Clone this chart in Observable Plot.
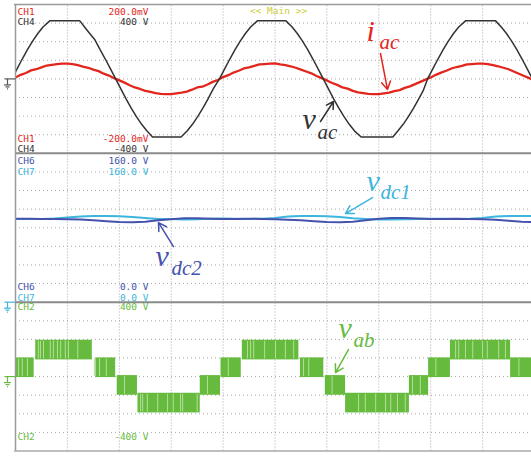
<!DOCTYPE html>
<html><head><meta charset="utf-8">
<script src="https://cdn.jsdelivr.net/npm/d3@7"></script>
<script src="https://cdn.jsdelivr.net/npm/@observablehq/plot@0.6"></script>
<style>html,body{margin:0;padding:0;background:#fff;overflow:hidden}</style>
</head><body><div id="chart"></div>
<script>
// ---------- data (time in screen divisions) ----------
// CH4 v_ac (V) : [t, V]
const vacPoints = [[-0.07,0],[0.03,54],[0.13,107],[0.23,157],[0.33,203],[0.43,244],[0.53,279],[0.66,312],[1.24,312],[1.33,279],[1.43,244],[1.53,210],[1.63,157],[1.73,107],[1.83,54],[1.93,0],
[2.03,-54],[2.13,-107],[2.23,-157],[2.33,-203],[2.43,-244],[2.53,-279],[2.64,-312],[3.19,-312],[3.31,-279],[3.41,-244],[3.51,-203],[3.61,-157],[3.71,-107],[3.81,-54],[3.93,0],
[4.03,54],[4.13,107],[4.23,157],[4.33,203],[4.43,244],[4.53,279],[4.66,312],[5.21,312],[5.33,279],[5.43,244],[5.53,203],[5.63,157],[5.73,107],[5.83,54],[5.93,0],
[6.03,-54],[6.13,-107],[6.23,-157],[6.33,-203],[6.43,-244],[6.53,-279],[6.66,-312],[7.27,-312],[7.37,-279],[7.47,-244],[7.57,-203],[7.67,-157],[7.77,-107],[7.86,-60],[7.94,0],
[8.04,54],[8.14,107],[8.24,157],[8.34,203],[8.44,244],[8.54,279],[8.67,312],[9.25,312],[9.36,279],[9.46,244],[9.56,203],[9.66,157],[9.76,107],[9.86,54],[9.96,0],[10.06,-54]];
// CH1 i_ac (mV), one sample every 0.1 div from t = 0
const iacStep = 0.1;
const iacMV = [4,11,16,23,26,31,36,38,40,41, 41,40,37,33,30,25,21,14,9,2,
 -4,-10,-17,-23,-27,-32,-35,-38,-40,-41, -41,-39,-37,-34,-29,-23,-21,-15,-8,-3,
 5,10,17,22,28,31,35,39,40,41, 42,39,37,34,30,25,20,15,8,2,
 -4,-11,-16,-23,-26,-32,-36,-38,-40,-41, -41,-39,-37,-33,-30,-24,-20,-14,-8,-2,
 4,11,17,22,28,32,35,39,40,41, 41,40,37,34,30,26,20,14,8,2, -4];
// CH7 v_dc1 and CH6 v_dc2 (V), one sample every 0.25 div
const dcStep = 0.25;
const vdc1V = [89.5,89.5,89.5,90,91,92,92.5,92.7,92.3,91.5,90.5,89.5,89.5,89,89.2,89.8,90,89.8,89.5,89.8,90.5,92,92.5,92.7,92.3,91.5,90.3,89.5,89,89,89.2,89.5,89.8,89.8,89.5,89.8,90.5,92,92.5,92.7,92.5];
const vdc2V = [89.8,89.8,89.5,89.5,89.2,89,88,87,86.3,86,86.5,88,89.2,90.3,90.3,89.8,89.5,89.5,89.8,89.5,89.2,88.7,88,87,86.3,86,86.5,88,89.8,90.5,90.5,90,89.5,89.5,89.8,89.5,89.2,88.5,87.5,86.5,86.1];
// CH2 v_ab : PWM bands between adjacent levels (V)
const vabStart = [0,0.39,1.55,1.96,2.36,3.56,3.96,4.37,5.49,5.97,6.36,7.59,7.96,8.38,9.54];
const vabEnd   = [0.36,1.48,1.93,2.35,3.56,3.95,4.35,5.46,5.94,6.36,7.59,7.96,8.38,9.54,10];
const vabLo    = [0,95,0,-95,-190,-95,0,95,0,-95,-190,-95,0,95,0];
const vabHi    = [95,190,95,0,-95,0,95,190,95,0,-95,0,95,190,95];
const vabGaps  = [0.06,0.13,0.23,0.44,0.48,0.54,0.67,0.73,0.81,0.87,0.96,1.02,1.2,1.52,1.62,1.75,2.1,2.41,2.45,2.54,2.74,2.93,3.04,3.18,3.22,3.5,3.7,4.1,4.47,4.53,4.59,4.8,5.01,5.2,5.36,5.55,5.65,6.1,6.61,6.74,6.94,7.13,7.23,7.36,7.51,7.65,7.8,8.1,8.48,8.54,8.67,8.81,9.0,9.09,9.31,9.44,9.7];
// channel labels
const labelCh  = ["CH1","CH4","CH1","CH4","CH6","CH7","CH6","CH7","CH2","CH2"];
const labelVal = ["200.0mV","400 V","-200.0mV","-400 V","160.0 V","160.0 V","0.0 V","0.0 V","400 V","-400 V"];
const modeText = "<< Main >>";

// ---------- layout ----------
const W = 531, H = 457;
const X0 = 15, DX = 51.9, Y0 = 4, DY = 18.6;
const tx = x => (x - X0) / DX;          // pixel -> division
const ty = y => 24 - (y - Y0) / DY;
const y1 = mv => 20 + mv / 50;          // CH1 50 mV/div
const y4 = v => 20 + v / 100;           // CH4 100 V/div
const y67 = v => 8 + v / 20;            // CH6/7 20 V/div, 0 at bottom
const y2 = v => 4 + v / 100;            // CH2 100 V/div

const RED = "#e3261c", BLK = "#333333", BLUE = "#4552ad", CYAN = "#3db5dc", GREEN = "#66bb3e";
const labelY = [11, 21.5, 138, 148, 160, 171, 286, 297, 306.5, 436];
const labelC = [RED, BLK, RED, BLK, BLUE, CYAN, BLUE, CYAN, GREEN, GREEN];
const idx = d3.range(labelCh.length);

const iac = iacMV.map((v, i) => ({t: i * iacStep, y: y1(v)}));
const vac = vacPoints.map(([t, v]) => ({t, y: y4(v)}));
const dc1 = vdc1V.map((v, i) => ({t: i * dcStep, y: y67(v)}));
const dc2 = vdc2V.map((v, i) => ({t: i * dcStep, y: y67(v)}));
const bands = vabStart.map((s, i) => ({t0: s, t1: vabEnd[i], lo: y2(vabLo[i]), hi: y2(vabHi[i])}));
const stripes = vabGaps.map(t => {
  const b = bands.find(b => t >= b.t0 && t <= b.t1) || bands[0];
  return {t, lo: b.lo, hi: b.hi};
});

// ground markers (pixel shapes)
const gShape = [[4,0,15,0],[7,0,7,6],[3.5,6,10.5,6],[5,8,9,8],[6.5,10,7.5,10]];
const grounds = [];
[[78.4, "#555"], [301.6, CYAN], [376, GREEN]].forEach(([yp, c]) => {
  gShape.forEach(([a, b, cc, d]) => grounds.push({x1: tx(a), y1: ty(yp + b), x2: tx(cc), y2: ty(yp + d), c}));
});

// annotations
const serif = "Liberation Serif, Times New Roman, serif";
const ann = [
  {s: "i", x: 366, b: 40, f: 30, c: RED}, {s: "ac", x: 379, b: 48, f: 21, c: RED},
  {s: "v", x: 302, b: 128, f: 30, c: BLK}, {s: "ac", x: 317, b: 138, f: 21, c: BLK},
  {s: "v", x: 366, b: 190, f: 30, c: CYAN}, {s: "dc1", x: 380, b: 198, f: 21, c: CYAN},
  {s: "v", x: 155, b: 265, f: 30, c: BLUE}, {s: "dc2", x: 171, b: 274, f: 21, c: BLUE},
  {s: "v", x: 338, b: 337, f: 30, c: GREEN}, {s: "ab", x: 353, b: 346, f: 21, c: GREEN}
];
const arrows = [
  {x1: 380, y1: 53, x2: 387, y2: 89, c: RED},
  {x1: 320, y1: 121, x2: 333, y2: 101, c: BLK},
  {x1: 372, y1: 197, x2: 345, y2: 213, c: CYAN},
  {x1: 173, y1: 246, x2: 158, y2: 222, c: BLUE},
  {x1: 348, y1: 349, x2: 335, y2: 372, c: GREEN}
].map(a => ({x1: tx(a.x1), y1: ty(a.y1), x2: tx(a.x2), y2: ty(a.y2), c: a.c}));

const mono = "DejaVu Sans Mono, monospace";
const hgrid = d3.range(1, 24).filter(k => k % 8 !== 0);

const chart = Plot.plot({
  width: W, height: H,
  marginLeft: X0, marginRight: 0, marginTop: Y0, marginBottom: H - 450.5,
  x: {domain: [0, (W - X0) / DX], axis: null},
  y: {domain: [0, 24], axis: null},
  style: {background: "#fff", overflow: "hidden"},
  marks: [
    Plot.ruleY(hgrid, {x1: 0, x2: 10, stroke: "#a8a8a8", strokeWidth: 1, strokeDasharray: "1,3"}),
    Plot.ruleX(d3.range(1, 10), {y1: 0, y2: 24, stroke: "#a8a8a8", strokeWidth: 1, strokeDasharray: "1,2"}),
    // v_ab bands
    Plot.rect(bands, {x1: "t0", x2: "t1", y1: "lo", y2: "hi", fill: GREEN, insetTop: -1, insetBottom: -1, clip: true}),
    Plot.ruleX(stripes, {x: "t", y1: "lo", y2: "hi", stroke: "#b4de98", strokeWidth: 1}),
    // dc links
    Plot.line(dc1, {x: "t", y: "y", stroke: CYAN, strokeWidth: 2, clip: true}),
    Plot.line(dc2, {x: "t", y: "y", stroke: BLUE, strokeWidth: 2, clip: true}),
    // ac
    Plot.line(iac, {x: "t", y: "y", stroke: RED, strokeWidth: 2.3, clip: true}),
    Plot.line(vac, {x: "t", y: "y", stroke: BLK, strokeWidth: 1.5, clip: true}),
    // borders
    Plot.ruleY([24], {x1: -0.02, x2: 10, stroke: "#9a9a9a", strokeWidth: 1.5}),
    Plot.ruleY([16, 8], {x1: 0, x2: 10, stroke: "#8a8a8a", strokeWidth: 2}),
    Plot.ruleY([0], {x1: -0.02, x2: 10, stroke: "#aaaaaa", strokeWidth: 1.5}),
    Plot.ruleX([0], {y1: 0, y2: 24, stroke: "#9a9a9a", strokeWidth: 1.5}),
    // channel labels
    Plot.text(idx, {x: tx(17), y: i => ty(labelY[i]), text: i => labelCh[i], fill: i => labelC[i],
      textAnchor: "start", fontFamily: mono, fontSize: 9.5}),
    Plot.text(idx, {x: tx(148), y: i => ty(labelY[i]), text: i => labelVal[i], fill: i => labelC[i],
      textAnchor: "end", fontFamily: mono, fontSize: 9.5}),
    Plot.text([modeText], {x: tx(278), y: ty(10.5), text: d => d, fill: "#cccc3a", fontFamily: mono, fontSize: 9.5}),
    // ground markers
    Plot.link(grounds, {x1: "x1", y1: "y1", x2: "x2", y2: "y2", stroke: "c", strokeWidth: 1.2}),
    // annotations
    Plot.text(ann, {x: d => tx(d.x), y: d => ty(d.b - 0.32 * d.f), text: "s", fill: "c", fontSize: d => d.f,
      fontFamily: serif, fontStyle: "italic", textAnchor: "start"}),
    Plot.arrow(arrows, {x1: "x1", y1: "y1", x2: "x2", y2: "y2", stroke: "c", strokeWidth: 1.5, headLength: 9})
  ]
});
document.getElementById("chart").appendChild(chart);
</script></body></html>
